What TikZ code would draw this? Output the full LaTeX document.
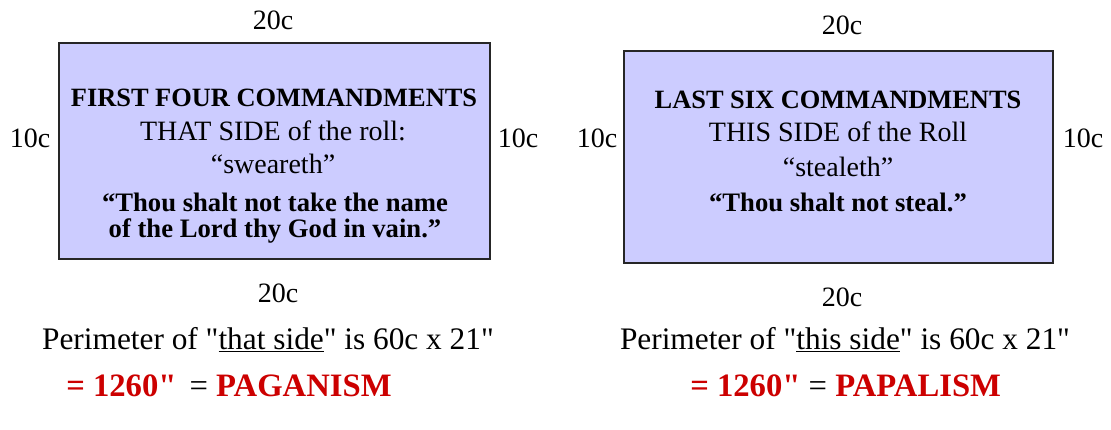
\documentclass[tikz,border=0pt]{standalone}
\usepackage{fontspec}
\setmainfont{Liberation Serif}[Ligatures=TeXOff]
\definecolor{boxfill}{HTML}{CCCCFF}
\definecolor{redtxt}{HTML}{CC0000}
\tikzset{
  lbl/.style={inner sep=0pt, anchor=center, font=\fontsize{21}{24}\selectfont},
  boxhead/.style={inner sep=0pt, anchor=center, font=\fontsize{19.8}{22}\selectfont\bfseries},
  boxmain/.style={inner sep=0pt, anchor=center, font=\fontsize{21}{24}\selectfont},
  boxquote/.style={inner sep=0pt, anchor=center, font=\fontsize{20}{22}\selectfont\bfseries},
  perim/.style={inner sep=0pt, anchor=center, font=\fontsize{23.5}{26}\selectfont},
  result/.style={inner sep=0pt, anchor=west, font=\fontsize{24.5}{28}\selectfont},
  rollbox/.style={draw=black!85, line width=1.2pt, fill=boxfill, inner sep=0pt}
}
\begin{document}
\begin{tikzpicture}[x=0.75pt,y=-0.75pt]
\useasboundingbox (0,0) rectangle (1111,429);
% left
\node[rollbox, minimum width=323.25pt, minimum height=162pt] (lbox) at (274.5,151) {};
\node[lbl] (ltop) at (273,20) {20c};
\node[lbl] (lleft) at (30,138) {10c};
\node[lbl] (lright) at (518,138) {10c};
\node[lbl] (lbot) at (278,293) {20c};
\node[boxhead] (lh) at (274,98) {FIRST FOUR COMMANDMENTS};
\node[boxmain] (lm) at (273,131) {THAT SIDE of the roll:};
\node[boxmain] (lw) at (273,164) {“sweareth”};
\node[boxquote] (lq1) at (275,202) {“Thou shalt not take the name};
\node[boxquote] (lq2) at (275,231) {of the Lord thy God in vain.”};
\node[perim] (lp) at (268,340) {Perimeter of "\underline{that side}" is 60c x 21"};
\node[result] (lr) at (66,386) {\textcolor{redtxt}{\bfseries = 1260"}\hspace{0.4em}= \textcolor{redtxt}{\bfseries PAGANISM}};
% right
\node[rollbox, minimum width=321.75pt, minimum height=159pt] (rbox) at (838.5,157) {};
\node[lbl] (rtop) at (842,25) {20c};
\node[lbl] (rleft) at (597,138) {10c};
\node[lbl] (rright) at (1083,138) {10c};
\node[lbl] (rbot) at (842,297) {20c};
\node[boxhead] (rh) at (838,100) {LAST SIX COMMANDMENTS};
\node[boxmain] (rm) at (838,132) {THIS SIDE of the Roll};
\node[boxmain] (rw) at (838,167) {“stealeth”};
\node[boxquote] (rq1) at (838,202) {“Thou shalt not steal.”};
\node[perim] (rp) at (845,340) {Perimeter of "\underline{this side}" is 60c x 21"};
\node[result] (rr) at (690,386) {\textcolor{redtxt}{\bfseries = 1260"} = \textcolor{redtxt}{\bfseries PAPALISM}};
\end{tikzpicture}
\end{document}
